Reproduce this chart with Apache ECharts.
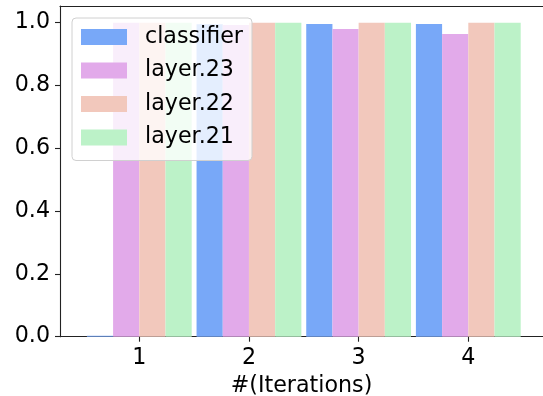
<!DOCTYPE html>
<html>
<head>
<meta charset="utf-8">
<script src="https://cdn.jsdelivr.net/npm/echarts@6/dist/echarts.min.js"></script>
<style>
html,body{margin:0;padding:0;background:#fff;}
#chart{width:543px;height:396px;}
</style>
</head>
<body>
<div id="chart"></div>
<script>
// ---- data ----
var iterations = [1, 2, 3, 4];
var seriesNames = ['classifier', 'layer.23', 'layer.22', 'layer.21'];
var classifierVals = [0.003, 0.995, 0.996, 0.996];
var layer23Vals = [1.0, 0.993, 0.980, 0.964];
var layer22Vals = [1.0, 1.0, 1.0, 1.0];
var layer21Vals = [1.0, 1.0, 1.0, 1.0];
var yTicks = [0, 0.2, 0.4, 0.6, 0.8, 1.0];
var xTicks = [1, 2, 3, 4];
var xName = '#(Iterations)';

var colors = ['#78a8f8', '#e2aaea', '#f2c8bc', '#bcf2c8'];
var allVals = [classifierVals, layer23Vals, layer22Vals, layer21Vals];
var FONT = 'DejaVu Sans';
var FS = 22.2;
var AX = '#222';

function pairs(vals) {
  return iterations.map(function (x, i) { return [x, vals[i]]; });
}

var series = seriesNames.map(function (name, k) {
  return {
    name: name,
    type: 'bar',
    xAxisIndex: 0,
    data: pairs(allVals[k]),
    barWidth: 26.2,
    barGap: '0%',
    itemStyle: { color: colors[k] },
    emphasis: { disabled: true }
  };
});

var chart = echarts.init(document.getElementById('chart'), null, { renderer: 'canvas' });
chart.setOption({
  animation: false,
  backgroundColor: '#fff',
  grid: {
    left: 60, right: 0, top: 6, bottom: 396 - 336.7,
    show: false,
    containLabel: false,
    outerBoundsMode: 'none'
  },
  legend: {
    orient: 'vertical',
    left: 72, top: 18,
    padding: [8, 9, 12, 9],
    itemWidth: 46, itemHeight: 16,
    itemGap: 11.5,
    icon: 'rect',
    backgroundColor: 'rgba(255,255,255,0.8)',
    borderColor: '#d0d0d0', borderWidth: 1, borderRadius: 4,
    textStyle: { fontFamily: FONT, fontSize: FS, color: '#000', lineHeight: 22, padding: [0, 0, 0, 13] },
    data: seriesNames
  },
  xAxis: [{
    type: 'value',
    position: 'bottom',
    min: 0.277, max: 0.277 + 483 / 109.67,
    name: xName,
    nameLocation: 'middle',
    nameGap: 39,
    nameTextStyle: { fontFamily: FONT, fontSize: FS, color: '#000' },
    splitLine: { show: false },
    axisLine: { show: true, lineStyle: { color: AX, width: 1.1 } },
    axisTick: { show: true, inside: false, length: 5, lineStyle: { color: AX, width: 1.1 }, customValues: xTicks },
    axisLabel: { fontFamily: FONT, fontSize: FS, color: '#000', margin: 11, customValues: xTicks, formatter: function (v) { return String(v); } }
  }, {
    type: 'value',
    position: 'top',
    min: 0.277, max: 0.277 + 483 / 109.67,
    splitLine: { show: false },
    axisLine: { show: true, onZero: false, lineStyle: { color: AX, width: 1.1 } },
    axisTick: { show: false },
    axisLabel: { show: false }
  }],
  yAxis: {
    type: 'value',
    min: 0, max: 1.0532,
    splitLine: { show: false },
    axisLine: { show: true, lineStyle: { color: AX, width: 1.1 } },
    axisTick: { show: true, inside: false, length: 5, lineStyle: { color: AX, width: 1.1 }, customValues: yTicks },
    axisLabel: { fontFamily: FONT, fontSize: FS, color: '#000', margin: 10, customValues: yTicks, formatter: function (v) { return v.toFixed(1); } }
  },
  series: series
});
</script>
</body>
</html>
